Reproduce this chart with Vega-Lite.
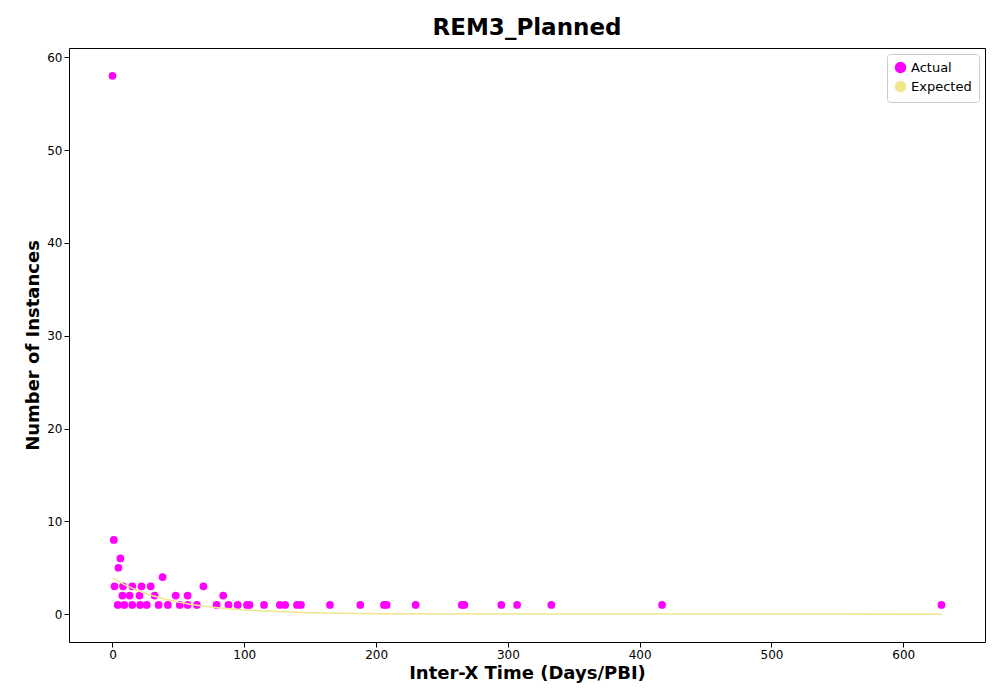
{
  "$schema": "https://vega.github.io/schema/vega-lite/v6.json",
  "width": 916,
  "height": 594,
  "padding": {"left": 24, "top": 17, "right": 5, "bottom": 5},
  "background": "white",
  "config": {"font": "DejaVu Sans", "view": {"stroke": "black"}, "axis": {"grid": false, "domain": false, "tickColor": "black", "labelColor": "black", "labelFontSize": 12, "labelFontWeight": "normal", "titleFontSize": 18, "titleFontWeight": "bold", "titleColor": "black"}},
  "title": {"text": "REM3_Planned", "fontSize": 23, "fontWeight": "bold", "color": "black", "offset": 8},
  "layer": [
    {
      "data": {"values": [
        {"x": 0, "y": 58}, {"x": 1, "y": 8}, {"x": 6, "y": 6}, {"x": 4.5, "y": 5}, {"x": 38, "y": 4},
        {"x": 1.5, "y": 3}, {"x": 8, "y": 3}, {"x": 15, "y": 3}, {"x": 22, "y": 3}, {"x": 29, "y": 3}, {"x": 69, "y": 3},
        {"x": 7.5, "y": 2}, {"x": 13, "y": 2}, {"x": 20.5, "y": 2}, {"x": 32, "y": 2}, {"x": 48, "y": 2}, {"x": 57, "y": 2}, {"x": 84, "y": 2},
        {"x": 4, "y": 1}, {"x": 9, "y": 1}, {"x": 15, "y": 1}, {"x": 21, "y": 1}, {"x": 26, "y": 1}, {"x": 35, "y": 1}, {"x": 42, "y": 1},
        {"x": 51, "y": 1}, {"x": 57, "y": 1}, {"x": 64, "y": 1}, {"x": 79, "y": 1}, {"x": 88, "y": 1}, {"x": 95, "y": 1}, {"x": 102, "y": 1},
        {"x": 104, "y": 1}, {"x": 115, "y": 1}, {"x": 127, "y": 1}, {"x": 131, "y": 1}, {"x": 140, "y": 1}, {"x": 143, "y": 1}, {"x": 165, "y": 1},
        {"x": 188, "y": 1}, {"x": 206, "y": 1}, {"x": 208, "y": 1}, {"x": 230, "y": 1}, {"x": 265, "y": 1}, {"x": 267, "y": 1},
        {"x": 295, "y": 1}, {"x": 307, "y": 1}, {"x": 333, "y": 1}, {"x": 417, "y": 1}, {"x": 629, "y": 1}
      ]},
      "transform": [{"calculate": "'Actual'", "as": "series"}],
      "mark": {"type": "circle", "size": 60, "opacity": 1},
      "encoding": {
        "x": {"field": "x", "type": "quantitative", "scale": {"domain": [-33, 662], "nice": false, "zero": false}, "axis": {"values": [0, 100, 200, 300, 400, 500, 600], "title": "Inter-X Time (Days/PBI)"}},
        "y": {"field": "y", "type": "quantitative", "scale": {"domain": [-3, 61], "nice": false}, "axis": {"values": [0, 10, 20, 30, 40, 50, 60], "title": "Number of Instances"}},
        "color": {"field": "series", "type": "nominal", "scale": {"domain": ["Actual", "Expected"], "range": ["#ff00ff", "#f0e68c"]},
          "legend": {"title": null, "orient": "top-right", "offset": 6, "fillColor": "white", "strokeColor": "#cccccc", "padding": 7, "labelFontSize": 13, "cornerRadius": 3, "symbolType": "circle"}}
      }
    },
    {
      "data": {"values": [
        {"x": 0, "y": 3.9}, {"x": 10, "y": 3.1}, {"x": 20, "y": 2.5}, {"x": 30, "y": 2.0}, {"x": 40, "y": 1.6},
        {"x": 50, "y": 1.3}, {"x": 60, "y": 1.05}, {"x": 70, "y": 0.85}, {"x": 80, "y": 0.7}, {"x": 100, "y": 0.45},
        {"x": 120, "y": 0.3}, {"x": 150, "y": 0.15}, {"x": 200, "y": 0.05}, {"x": 300, "y": 0.01}, {"x": 629, "y": 0}
      ]},
      "transform": [{"calculate": "'Expected'", "as": "series"}],
      "mark": {"type": "line", "strokeWidth": 1.5},
      "encoding": {
        "x": {"field": "x", "type": "quantitative"},
        "y": {"field": "y", "type": "quantitative"},
        "color": {"field": "series", "type": "nominal"}
      }
    }
  ]
}
